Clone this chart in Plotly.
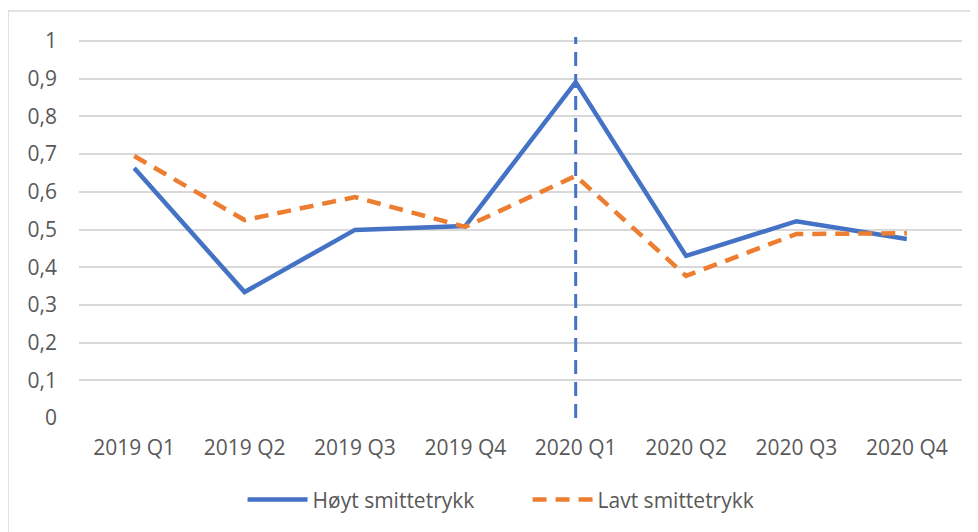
import plotly.graph_objects as go

categories = ["2019 Q1", "2019 Q2", "2019 Q3", "2019 Q4", "2020 Q1", "2020 Q2", "2020 Q3", "2020 Q4"]
hoyt = [0.663, 0.334, 0.499, 0.509, 0.891, 0.430, 0.522, 0.475]
lavt = [0.695, 0.525, 0.586, 0.507, 0.642, 0.377, 0.488, 0.490]
series_names = ["Høyt smittetrykk", "Lavt smittetrykk"]
marker_category = "2020 Q1"
marker_span = [0, 1.0106]
y_ticks = [0, 0.1, 0.2, 0.3, 0.4, 0.5, 0.6, 0.7, 0.8, 0.9, 1]

BLUE = "#4472C4"
ORANGE = "#ED7D31"
GRID = "#D9D9D9"
TXT = "#595959"
FONT = "Open Sans"
FS = 21

fig = go.Figure()
fig.add_trace(go.Scatter(x=categories, y=hoyt, name=series_names[0], mode="lines",
                         line=dict(color=BLUE, width=4.5)))
fig.add_trace(go.Scatter(x=categories, y=lavt, name=series_names[1], mode="lines",
                         line=dict(color=ORANGE, width=4.5, dash="14px,9px")))
fig.add_trace(go.Scatter(x=[marker_category, marker_category], y=marker_span, mode="lines",
                         showlegend=False, hoverinfo="skip",
                         line=dict(color=BLUE, width=3, dash="14px,8px")))

# outer chart frame
fig.add_shape(type="rect", xref="paper", yref="paper", x0=-0.0804, x1=1.05, y0=-0.4, y1=1.0682,
              line=dict(color=GRID, width=1.5), fillcolor="rgba(0,0,0,0)", layer="below")

fig.update_layout(
    width=970, height=524,
    margin=dict(l=71, r=16, t=29, b=114, autoexpand=False),
    paper_bgcolor="white", plot_bgcolor="white",
    separators=", ",
    font=dict(family=FONT, size=FS, color=TXT),
    showlegend=True,
    legend=dict(orientation="h", x=0.508, xanchor="center", y=-0.215, yanchor="middle",
                font=dict(family=FONT, size=FS, color=TXT), itemwidth=60,
                traceorder="normal", entrywidth=210),
    xaxis=dict(type="category", range=[-0.5, len(categories) - 0.5], showgrid=False,
               showline=False, zeroline=False, automargin=False,
               ticks="", ticklabelstandoff=15, tickfont=dict(size=FS, color=TXT)),
    yaxis=dict(range=marker_span, tickvals=y_ticks, showgrid=True, gridcolor=GRID, gridwidth=1.5,
               zeroline=False, showline=False, ticks="", ticklabelstandoff=21, automargin=False,
               tickfont=dict(size=FS, color=TXT)),
)

fig.write_html("out.html")
